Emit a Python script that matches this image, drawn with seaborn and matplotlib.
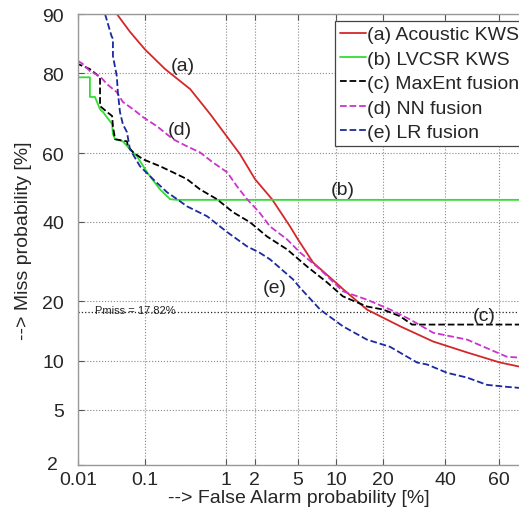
import numpy as np
import pandas as pd
import matplotlib
matplotlib.use("Agg")
import matplotlib.pyplot as plt
import seaborn as sns
from statistics import NormalDist

# ---------------- data (percent) ----------------
a_fa = [0.040, 0.062, 0.101, 0.188, 0.39, 0.67, 0.985, 1.42, 2.02, 2.94, 4.28, 5.0, 6.65, 10.6, 11.1, 16.0, 24.8, 35.6, 48.0, 60.3, 67.0]
a_miss = [90.0, 87.5, 84.6, 80.9, 76.6, 70.6, 65.3, 59.7, 52.4, 46.5, 38.6, 35.0, 28.9, 23.2, 22.6, 18.3, 15.2, 12.7, 11.1, 9.75, 9.25]

b_fa = [0.01, 0.0155, 0.0155, 0.0186, 0.0223, 0.0248, 0.034, 0.035, 0.0376, 0.049, 0.062, 0.078, 0.108, 0.161, 0.218, 0.268, 67.0]
b_miss = [79.2, 79.2, 74.8, 74.8, 71.8, 71.1, 68.0, 65.3, 63.9, 63.3, 61.1, 59.1, 54.4, 49.4, 46.5, 46.3, 46.3]

c_fa = [0.01, 0.01, 0.0155, 0.0223, 0.0223, 0.0286, 0.034, 0.035, 0.0376, 0.0563, 0.058, 0.069, 0.095, 0.161, 0.238, 0.356, 0.51, 0.80, 1.20, 1.80, 2.64, 4.03, 5.95, 8.53, 11.1, 16.0, 20.0, 24.8, 28.5, 67.0]
c_miss = [82.3, 81.9, 80.9, 79.2, 72.6, 71.1, 70.1, 67.4, 63.9, 63.3, 61.9, 60.2, 58.2, 56.2, 54.4, 52.4, 49.4, 46.5, 42.7, 39.8, 35.8, 32.3, 27.9, 24.1, 21.0, 18.9, 18.3, 17.0, 15.5, 15.5]

d_fa = [0.01, 0.012, 0.0155, 0.0223, 0.0286, 0.040, 0.049, 0.069, 0.095, 0.147, 0.238, 0.356, 0.51, 0.72, 1.04, 1.32, 1.68, 2.22, 2.82, 4.03, 5.2, 7.55, 11.1, 16.0, 21.9, 27.9, 35.6, 48.0, 56.7, 62.8, 67.0]
d_miss = [82.5, 81.9, 80.5, 79.4, 77.7, 75.9, 73.6, 71.8, 69.8, 67.4, 63.9, 61.9, 60.2, 57.3, 54.4, 50.3, 46.5, 42.7, 38.6, 35.0, 31.5, 27.2, 22.1, 20.3, 18.3, 16.4, 14.1, 13.0, 11.5, 10.5, 10.4]

e_fa = [0.0266, 0.0334, 0.035, 0.035, 0.040, 0.0414, 0.0445, 0.049, 0.0563, 0.062, 0.086, 0.130, 0.20, 0.268, 0.356, 0.62, 1.04, 1.68, 2.22, 2.82, 4.54, 5.2, 7.55, 11.1, 16.0, 21.9, 30.1, 33.5, 40.6, 48.0, 55.5, 62.8, 67.0]
e_miss = [90.0, 86.8, 86.4, 83.4, 79.4, 75.9, 71.1, 68.0, 65.8, 61.1, 56.2, 52.4, 48.5, 46.5, 44.4, 41.5, 37.0, 33.1, 31.5, 29.7, 24.8, 22.9, 18.3, 15.2, 13.0, 11.9, 9.75, 9.5, 8.5, 7.97, 7.2, 7.0, 6.9]

labels = ["(a) Acoustic KWS", "(b) LVCSR KWS", "(c) MaxEnt fusion", "(d) NN fusion", "(e) LR fusion"]
colors = ["#d42828", "#33dd33", "#000000", "#cc33cc", "#1a2aa0"]
styles = ["-", "-", "--", "--", "--"]

x_ticks = [0.01, 0.1, 1, 2, 5, 10, 20, 40, 60]
x_ticklabels = ["0.01", "0.1", "1", "2", "5", "10", "20", "40", "60"]
y_ticks = [2, 5, 10, 20, 40, 60, 80, 90]
y_ticklabels = ["2", "5", "10", "20", "40", "60", "80", "90"]

pmiss = 17.82

# ---------------- probit scale ----------------
_nd = NormalDist()


def _fwd_scalar(v):
    if not np.isfinite(v):
        return np.nan
    p = min(max(v / 100.0, 1e-9), 1 - 1e-9)
    return _nd.inv_cdf(p)


def _inv_scalar(z):
    if not np.isfinite(z):
        return np.nan
    return _nd.cdf(z) * 100.0


_fwd_v = np.vectorize(_fwd_scalar, otypes=[float])
_inv_v = np.vectorize(_inv_scalar, otypes=[float])


def forward(v):
    return _fwd_v(np.asarray(v, dtype=float))


def inverse(z):
    return _inv_v(np.asarray(z, dtype=float))


# ---------------- figure ----------------
sns.set_theme(style="white")
plt.rcParams["font.family"] = ["Liberation Sans", "DejaVu Sans"]

fig = plt.figure(figsize=(5.19, 5.10), dpi=100)
ax = fig.add_axes([78 / 519, 44 / 510, 441 / 519, 451 / 510])
ax.set_xscale("function", functions=(forward, inverse))
ax.set_yscale("function", functions=(forward, inverse))

series = [(a_fa, a_miss), (b_fa, b_miss), (c_fa, c_miss), (d_fa, d_miss), (e_fa, e_miss)]
for (fa, ms), lab, col, st in zip(series, labels, colors, styles):
    df = pd.DataFrame({"fa": fa, "miss": ms})
    sns.lineplot(data=df, x="fa", y="miss", ax=ax, sort=False, estimator=None,
                 color=col, linestyle=st, linewidth=1.3, label=lab)

ax.set_xlim(0.01, 67.0)
ax.set_ylim(2, 90)

ax.axhline(pmiss, color="#222222", linestyle=":", linewidth=0.9, zorder=1)
ax.text(0.0186, pmiss + 0.3, "Pmiss = 17.82%", fontsize=8, color="#222222",
        ha="left", va="center")

ax.set_xticks(x_ticks)
ax.set_xticklabels(x_ticklabels)
ax.set_yticks(y_ticks)
# lowest label is drawn separately (further left) so it clears "0.01"
ax.set_yticklabels([""] + y_ticklabels[1:])
ax.annotate(y_ticklabels[0], xy=(0, y_ticks[0]),
            xycoords=ax.get_yaxis_transform(), xytext=(-14.5, 0),
            textcoords="offset points", ha="right", va="center", fontsize=14,
            color="#262626", annotation_clip=False)
ax.minorticks_off()

ax.grid(True, which="major", color="#888888", linestyle=":", linewidth=0.8)
ax.tick_params(axis="both", direction="in", length=4, width=0.8, color="#555555",
               labelsize=14, top=True, right=False, bottom=True, left=True)
ax.tick_params(axis="x", pad=4)
ax.tick_params(axis="y", pad=10)

for side in ["left", "top", "bottom"]:
    ax.spines[side].set_color("#999999")
    ax.spines[side].set_linewidth(1.0)
ax.spines["right"].set_visible(False)

ax.set_xlabel("--> False Alarm probability [%]", fontsize=14, labelpad=1)
ax.set_ylabel("--> Miss probability [%]", fontsize=14)
ax.yaxis.set_label_coords(-0.105, 0.5)

for txt, xv, yv in [("(a)", 0.32, 81.7), ("(d)", 0.29, 66.6), ("(b)", 11.1, 49.4),
                    ("(e)", 3.14, 22.9), ("(c)", 54.4, 17.2)]:
    ax.text(xv, yv, txt, fontsize=14, ha="center", va="center")

leg = ax.legend(loc="upper left", bbox_to_anchor=(0.583, 0.9845), borderaxespad=0,
                fontsize=14, handlelength=1.35, handletextpad=0.05, labelspacing=0.35,
                borderpad=0.25, frameon=True, fancybox=False)
leg.get_frame().set_edgecolor("#444444")
leg.get_frame().set_linewidth(0.9)
leg.get_frame().set_alpha(1)

fig.savefig("out.png", dpi=100)
